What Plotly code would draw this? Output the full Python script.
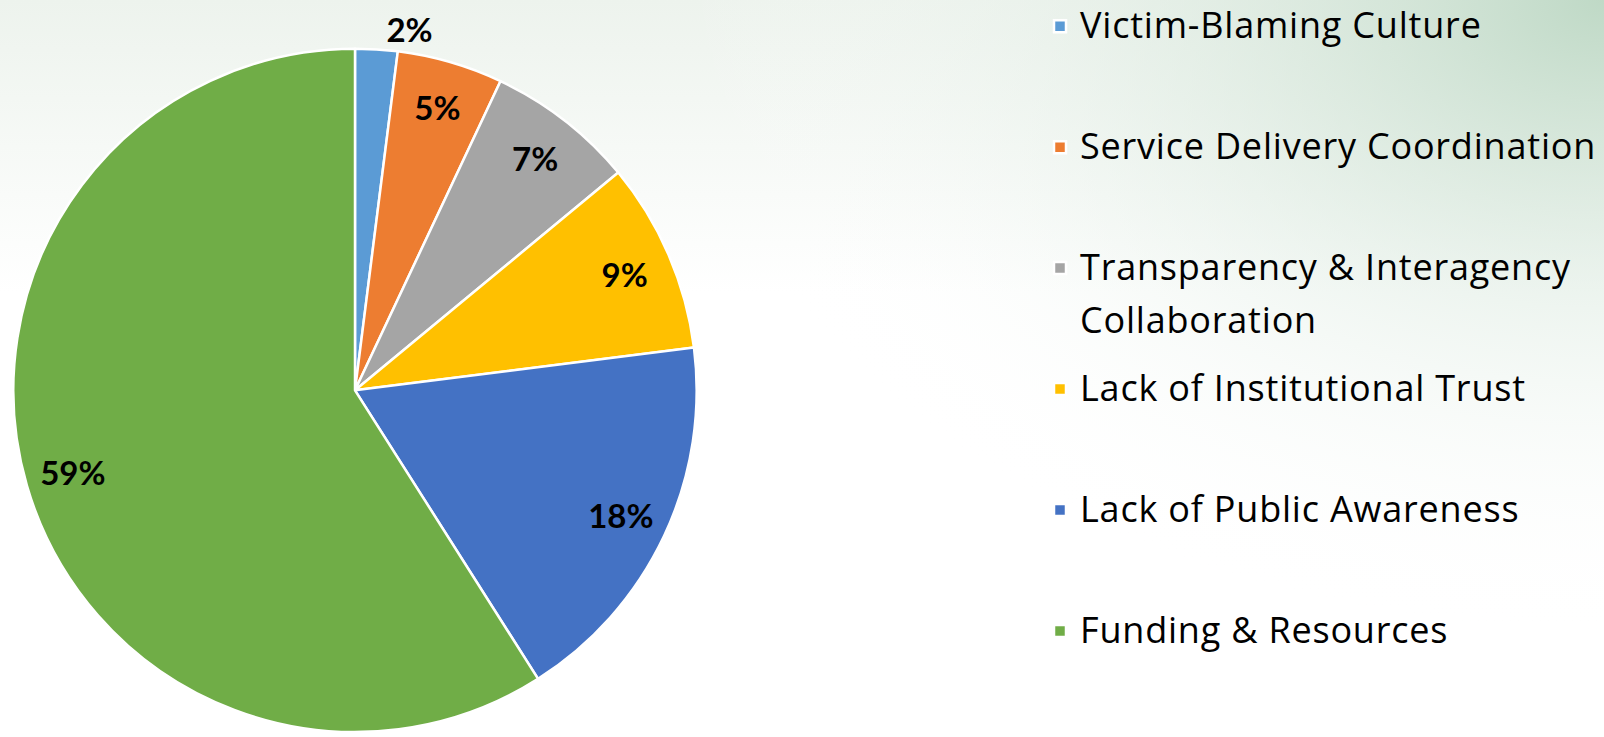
import base64
import plotly.graph_objects as go

# ---- data ----
categories = [
    "Victim-Blaming Culture",
    "Service Delivery Coordination",
    "Transparency & Interagency Collaboration",
    "Lack of Institutional Trust",
    "Lack of Public Awareness",
    "Funding & Resources",
]
legend_lines = [
    ["Victim-Blaming Culture"],
    ["Service Delivery Coordination"],
    ["Transparency & Interagency", "Collaboration"],
    ["Lack of Institutional Trust"],
    ["Lack of Public Awareness"],
    ["Funding & Resources"],
]
values = [2, 5, 7, 9, 18, 59]
colors = ["#5B9BD5", "#ED7D31", "#A5A5A5", "#FFC000", "#4472C4", "#70AD47"]
outside_labels = [True, False, False, False, False, False]

W, H = 1604, 737
LEG_FONT = 30.25       # controls entry spacing (3 lines * 1.3 * size)
LEG_TEXT = 36          # visible text size
LEG_SPACING = "0.8px"  # letter spacing of legend text
LBL_FONT = dict(family="Lato", size=33, color="black", weight=700)
DOMAIN = dict(x=[11 / W, 699 / W], y=[0, 688 / H])


def legend_label(lines, pad_to):
    st = f"font-size:{LEG_TEXT}px;letter-spacing:{LEG_SPACING}"
    out = [f'<span style="{st}">{lines[0]}</span>']
    for ln in lines[1:]:
        out.append(f'<span style="{st};baseline-shift:-14px">{ln}</span>')
    while len(out) < pad_to:
        out.append("\u00a0")
    return "<br>".join(out)


labels = [legend_label(l, 3 if i < len(legend_lines) - 1 else 1)
          for i, l in enumerate(legend_lines)]

svg = f'''<svg xmlns="http://www.w3.org/2000/svg" width="{W}" height="{H}" viewBox="0 0 {W} {H}" preserveAspectRatio="none">
<defs>
<linearGradient id="lg" x1="0" y1="0" x2="0" y2="1">
<stop offset="0" stop-color="#edf3ed"/>
<stop offset="0.4" stop-color="#ffffff"/>
<stop offset="1" stop-color="#ffffff"/>
</linearGradient>
<radialGradient id="rg" cx="0" cy="0" r="640" gradientUnits="userSpaceOnUse" gradientTransform="translate({W},0) scale(1.45,1)">
<stop offset="0" stop-color="#bfd9c6" stop-opacity="1"/>
<stop offset="1" stop-color="#ffffff" stop-opacity="0"/>
</radialGradient>
</defs>
<rect width="{W}" height="{H}" fill="url(#lg)"/>
<rect width="{W}" height="{H}" fill="url(#rg)"/>
</svg>'''
bg_src = "data:image/svg+xml;base64," + base64.b64encode(svg.encode()).decode()

fig = go.Figure()
# base pie: slices, legend, and the outside label
fig.add_trace(
    go.Pie(
        labels=labels,
        values=values,
        customdata=categories,
        sort=False,
        direction="clockwise",
        rotation=0,
        marker=dict(colors=colors, line=dict(color="white", width=2.5)),
        texttemplate=["%{percent:.0%}" if o else "" for o in outside_labels],
        textposition=["outside" if o else "none" for o in outside_labels],
        textfont=LBL_FONT,
        hovertemplate="%{customdata}: %{percent}<extra></extra>",
        domain=DOMAIN,
    )
)
# transparent ring overlay used only to place inside labels near the rim
fig.add_trace(
    go.Pie(
        labels=labels,
        values=values,
        sort=False,
        direction="clockwise",
        rotation=0,
        hole=0.72,
        marker=dict(colors=["rgba(0,0,0,0)"] * len(values), line=dict(width=0)),
        texttemplate=["" if o else "%{percent:.0%}" for o in outside_labels],
        textposition=["none" if o else "inside" for o in outside_labels],
        insidetextorientation="horizontal",
        textfont=LBL_FONT,
        hoverinfo="skip",
        showlegend=False,
        domain=DOMAIN,
    )
)

fig.update_layout(
    width=W,
    height=H,
    margin=dict(l=0, r=0, t=0, b=0),
    paper_bgcolor="white",
    showlegend=True,
    legend=dict(
        x=1040 / W,
        xanchor="left",
        y=1.0,
        yanchor="top",
        valign="top",
        maxheight=H,
        font=dict(family="Open Sans", size=LEG_FONT, color="black"),
        bgcolor="rgba(0,0,0,0)",
        itemwidth=30,
    ),
    images=[
        dict(
            source=bg_src,
            xref="paper",
            yref="paper",
            x=0,
            y=1,
            sizex=1,
            sizey=1,
            xanchor="left",
            yanchor="top",
            sizing="stretch",
            layer="below",
        )
    ],
)

fig.write_html(
    "out.html",
    config={"displayModeBar": False},
    post_script="document.body.style.margin='0';",
)
